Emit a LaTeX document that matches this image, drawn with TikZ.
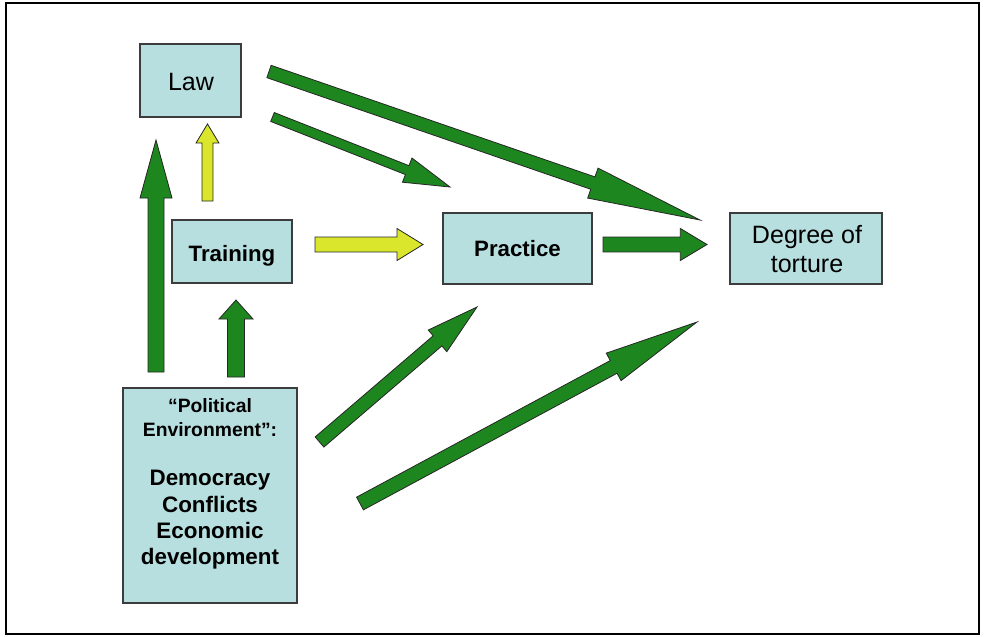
\documentclass[tikz,border=0pt]{standalone}
\usepackage{fontspec}
\setmainfont{Liberation Sans}
\usetikzlibrary{calc}
\definecolor{boxfill}{RGB}{183,223,223}
\definecolor{arrgreen}{RGB}{29,134,31}
\definecolor{arryellow}{RGB}{217,230,43}
\definecolor{boxline}{RGB}{60,60,60}
\tikzset{
  box/.style={draw=boxline, line width=0.8pt, fill=boxfill, inner sep=0pt},
  lbl/.style={anchor=base, inner sep=0pt, align=center},
}
% #1 start, #2 tip, #3 shaft half width, #4 head half width, #5 head length, #6 fill
\newcommand\blockarr[6]{%
  \coordinate (hb) at ($(#2)!#5!(#1)$);
  \filldraw[fill=#6, draw=black!85, line width=0.6pt, line join=miter]
    ($(#1)!#3!90:(#2)$) -- ($(hb)!#3!90:(#2)$) -- ($(hb)!#4!90:(#2)$) -- (#2)
    -- ($(hb)!#4!-90:(#2)$) -- ($(hb)!#3!-90:(#2)$) -- ($(#1)!#3!-90:(#2)$) -- cycle;
}
\begin{document}
\begin{tikzpicture}[x=0.75pt,y=-0.75pt]
\useasboundingbox (0,0) rectangle (984,636);
\fill[white] (0,0) rectangle (984,636);
\draw[black, line width=1.5pt] (6,3) rectangle (979,634);

% boxes
\node[box, minimum width=75.75pt, minimum height=54.75pt] (law) at (190.5,80.5) {};
\node[box, minimum width=90pt, minimum height=47.25pt] (training) at (232,251.5) {};
\node[box, minimum width=111.75pt, minimum height=53.25pt] (practice) at (517.5,248.5) {};
\node[box, minimum width=114pt, minimum height=53.25pt] (degree) at (806,248.5) {};
\node[box, minimum width=130.5pt, minimum height=161.25pt] (pe) at (210,495.5) {};

% texts
\node[lbl, font=\fontsize{18.8}{22}\selectfont] (tlaw) at (191,90) {Law};
\node[lbl, font=\fontsize{16.7}{20}\selectfont\bfseries] (ttraining) at (232,261.5) {Training};
\node[lbl, font=\fontsize{16.7}{20}\selectfont\bfseries] (tpractice) at (517.5,256.5) {Practice};
\node[lbl, font=\fontsize{18.8}{22}\selectfont] (tdeg1) at (807,243) {Degree of};
\node[lbl, font=\fontsize{18.8}{22}\selectfont] (tdeg2) at (807,272) {torture};
\node[lbl, font=\fontsize{14.5}{17}\selectfont\bfseries] (tpe1) at (210,412) {“Political};
\node[lbl, font=\fontsize{14.5}{17}\selectfont\bfseries] (tpe2) at (210,436) {Environment”:};
\node[lbl, font=\fontsize{16.8}{20}\selectfont\bfseries] (tpe3) at (210,485) {Democracy};
\node[lbl, font=\fontsize{16.8}{20}\selectfont\bfseries] (tpe4) at (210,512) {Conflicts};
\node[lbl, font=\fontsize{16.8}{20}\selectfont\bfseries] (tpe5) at (210,538) {Economic};
\node[lbl, font=\fontsize{16.8}{20}\selectfont\bfseries] (tpe6) at (210,564) {development};

% arrow end points
\coordinate (a1s) at (269,71.5);   \coordinate (a1t) at (700,220);
\coordinate (a2s) at (272.5,117);  \coordinate (a2t) at (450,187);
\coordinate (a3s) at (603,244.5);  \coordinate (a3t) at (707,244.5);
\coordinate (a4s) at (315,244.5);  \coordinate (a4t) at (423,244.5);
\coordinate (a5s) at (207.5,201);  \coordinate (a5t) at (207.5,124);
\coordinate (a6s) at (156,372);    \coordinate (a6t) at (156,140);
\coordinate (a7s) at (236,377);    \coordinate (a7t) at (236,300);
\coordinate (a8s) at (319.5,442);  \coordinate (a8t) at (477,307);
\coordinate (a9s) at (360,503.5);  \coordinate (a9t) at (697,322);

\blockarr{a1s}{a1t}{4.9pt}{11.9pt}{85pt}{arrgreen}
\blockarr{a2s}{a2t}{3.6pt}{9.75pt}{34.5pt}{arrgreen}
\blockarr{a3s}{a3t}{5.6pt}{12pt}{20pt}{arrgreen}
\blockarr{a4s}{a4t}{5.6pt}{12pt}{19.5pt}{arryellow}
\blockarr{a5s}{a5t}{4.1pt}{8.6pt}{14.25pt}{arryellow}
\blockarr{a6s}{a6t}{6pt}{12pt}{43.5pt}{arrgreen}
\blockarr{a7s}{a7t}{6.4pt}{12.75pt}{14.25pt}{arrgreen}
\blockarr{a8s}{a8t}{5pt}{10.7pt}{39pt}{arrgreen}
\blockarr{a9s}{a9t}{5.4pt}{11.7pt}{71pt}{arrgreen}
\end{tikzpicture}
\end{document}
